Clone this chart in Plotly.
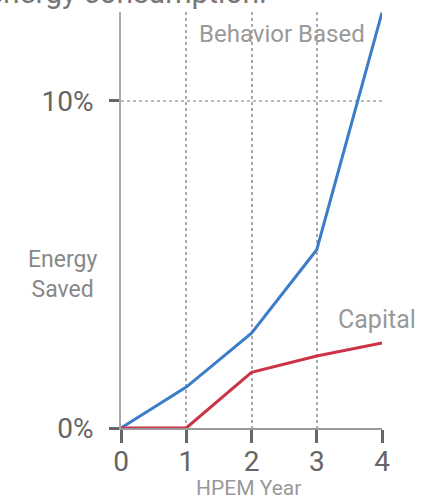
import plotly.graph_objects as go

years = [0, 1, 2, 3, 4]
behavior = [0, 1.25, 2.9, 5.45, 12.7]
capital = [0, 0, 1.7, 2.2, 2.6]
y_ticks = [0, 10]
y_tick_labels = ["0%", "10%"]

fig = go.Figure()
fig.add_trace(go.Scatter(x=years, y=behavior, mode="lines",
                         line=dict(color="#3b7dc8", width=3), cliponaxis=False))
fig.add_trace(go.Scatter(x=years, y=capital, mode="lines",
                         line=dict(color="#cc3346", width=3), cliponaxis=False))

font_family = "Roboto, Liberation Sans, sans-serif"
fig.update_layout(
    width=425, height=504,
    margin=dict(l=121, r=43, t=12, b=76, autoexpand=False),
    paper_bgcolor="white", plot_bgcolor="white",
    showlegend=False,
    font=dict(family=font_family, color="#666"),
    xaxis=dict(range=[0, 4], tickvals=years, ticktext=[str(v) for v in years],
               showgrid=True, gridcolor="#aaa", griddash="dot", gridwidth=1.5,
               showline=True, linecolor="#999", linewidth=2,
               ticks="outside", ticklen=13, tickwidth=3, tickcolor="#666",
               tickfont=dict(size=28, color="#666"), zeroline=False,
               ticklabelstandoff=-6, automargin=False),
    yaxis=dict(range=[0, 12.72], tickvals=y_ticks, ticktext=y_tick_labels,
               showgrid=True, gridcolor="#bbb", griddash="dot", gridwidth=1.5,
               showline=True, linecolor="#aaa", linewidth=2,
               ticks="outside", ticklen=10, tickwidth=3, tickcolor="#666",
               tickfont=dict(size=28, color="#666"), zeroline=False,
               ticklabelstandoff=10, automargin=False),
    annotations=[
        dict(text="energy consumption.", xref="paper", yref="paper", x=-0.521, y=1.048,
             xanchor="left", yanchor="middle", showarrow=False,
             font=dict(size=30, color="#777", family=font_family)),
        dict(text="Behavior Based", xref="paper", yref="paper", x=0.943, y=0.947,
             xanchor="right", yanchor="middle", showarrow=False,
             font=dict(size=24, color="#999", family=font_family)),
        dict(text="Capital", xref="paper", yref="paper", x=1.138, y=0.26,
             xanchor="right", yanchor="middle", showarrow=False,
             font=dict(size=25, color="#999", family=font_family)),
        dict(text="Energy<br>Saved", xref="paper", yref="paper", x=-0.226, y=0.37,
             xanchor="center", yanchor="middle", showarrow=False,
             font=dict(size=23, color="#888", family=font_family)),
        dict(text="HPEM Year", xref="paper", yref="paper", x=0.49, y=-0.145,
             xanchor="center", yanchor="middle", showarrow=False,
             font=dict(size=21, color="#999", family=font_family)),
    ],
)

fig.write_html("out.html")
